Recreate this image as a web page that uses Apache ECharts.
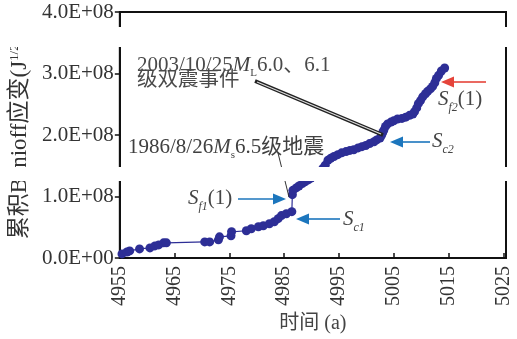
<!DOCTYPE html>
<html><head><meta charset="utf-8">
<script src="https://cdn.jsdelivr.net/npm/echarts@6/dist/echarts.min.js"></script>
<style>html,body{margin:0;padding:0;background:#fff}#c{width:517px;height:339px}</style>
</head><body><div id="c"></div>
<script>
// Cumulative Benioff strain (J^1/2) versus time (a)
const years = [
  4955.4, 4956.3, 4956.8, 4958.6, 4960.5, 4961.4, 4962.1, 4963.0, 4963.5,
  4970.5, 4971.4, 4973.0, 4973.2, 4975.3, 4975.4, 4978.1, 4979.0, 4980.3,
  4981.2, 4982.3, 4983.2, 4983.9, 4984.5, 4985.4, 4986.4,
  4986.5, 4986.6, 4987.2, 4987.7, 4988.3, 4988.8, 4989.4, 4989.9, 4990.5,
  4991.0, 4991.5, 4992.1, 4992.5, 4993.0, 4993.5, 4994.1, 4994.8, 4995.5,
  4996.3, 4997.0, 4997.7, 4998.5, 4999.2, 4999.9, 5000.6, 5001.4, 5001.9,
  5002.5, 5002.8, 5003.0, 5003.2, 5003.5, 5003.9, 5004.5, 5005.0, 5005.7,
  5006.5, 5007.2, 5007.9, 5008.5, 5008.8, 5009.2, 5009.5, 5009.9, 5010.3,
  5010.8, 5011.2, 5011.7, 5012.1, 5012.5, 5012.8, 5013.2, 5013.7, 5014.3
];
const values = [
  0.066e8, 0.098e8, 0.115e8, 0.148e8, 0.164e8, 0.197e8, 0.213e8, 0.246e8, 0.246e8,
  0.262e8, 0.262e8, 0.295e8, 0.344e8, 0.36e8, 0.426e8, 0.443e8, 0.475e8, 0.508e8,
  0.525e8, 0.557e8, 0.59e8, 0.64e8, 0.69e8, 0.72e8, 0.754e8,
  1.03e8, 1.10e8, 1.14e8, 1.17e8, 1.21e8, 1.24e8, 1.27e8, 1.30e8, 1.33e8,
  1.37e8, 1.41e8, 1.46e8, 1.51e8, 1.59e8, 1.62e8, 1.65e8, 1.68e8, 1.71e8,
  1.73e8, 1.75e8, 1.76e8, 1.79e8, 1.81e8, 1.83e8, 1.86e8, 1.89e8, 1.92e8,
  1.95e8, 2.00e8, 2.04e8, 2.08e8, 2.14e8, 2.18e8, 2.21e8, 2.23e8, 2.26e8,
  2.27e8, 2.29e8, 2.32e8, 2.34e8, 2.38e8, 2.44e8, 2.51e8, 2.56e8, 2.62e8,
  2.67e8, 2.71e8, 2.75e8, 2.79e8, 2.85e8, 2.92e8, 2.97e8, 3.04e8, 3.09e8
];
const yTickLabels = ['0.0E+00', '1.0E+08', '2.0E+08', '3.0E+08', '4.0E+08'];
const xName = '时间 (a)';
const yName = '累积Benioff应变(J{sup|1/2})';
const note2003a = '2003/10/25{i|M}{sub|L}6.0、6.1';
const note2003b = '级双震事件';
const note1986 = '1986/8/26{i|M}{sub|s}6.5级地震';
const labelSf1 = '{s|S}{sub|f1}(1)';
const labelSc1 = '{s|S}{sub|c1}';
const labelSc2 = '{s|S}{sub|c2}';
const labelSf2 = '{s|S}{sub|f2}(1)';

const SERIF = "'Liberation Serif','Times New Roman','Noto Sans CJK SC',serif";
const BLUE = '#1c76bd', RED = '#e5443a', MARK = '#2d2e96';

const chart = echarts.init(document.getElementById('c'), null, {renderer: 'canvas'});
const data = years.map((y, i) => [y, values[i]]);

function arrow(x1, y1, x2, y2, color) {
  const dx = x2 - x1, dy = y2 - y1, L = Math.hypot(dx, dy), ux = dx / L, uy = dy / L;
  const hl = 13, hw = 5.5;
  const bx = x2 - ux * hl, by = y2 - uy * hl;
  return [
    {type: 'line', z: 100, shape: {x1: x1, y1: y1, x2: bx, y2: by}, style: {stroke: color, lineWidth: 1.6}},
    {type: 'polygon', z: 100, shape: {points: [[x2, y2], [bx - uy * hw, by + ux * hw], [bx + uy * hw, by - ux * hw]]}, style: {fill: color}}
  ];
}
const noteRich = {
  i: {fontStyle: 'italic', fontSize: 21, fontFamily: SERIF, fill: '#444'},
  sub: {fontSize: 11, fontFamily: SERIF, fill: '#444', verticalAlign: 'bottom', padding: [0, 0, -3, 0]}
};
const sRich = {
  s: {fontStyle: 'italic', fontSize: 21, fontFamily: SERIF, fill: '#444'},
  sub: {fontStyle: 'italic', fontSize: 12, fontFamily: SERIF, fill: '#444', verticalAlign: 'bottom', padding: [0, 0, -4, 0]}
};
function txt(text, x, y, rich, size, color) {
  return {type: 'text', z: 100, style: {text: text, x: x, y: y, fontSize: size, fontFamily: SERIF,
    fill: color, rich: rich, verticalAlign: 'middle', align: 'left'}};
}

const graphics = [].concat(
  [txt(note2003a, 137, 65, noteRich, 21, '#4a4a4a'),
   txt(note2003b, 137, 81, noteRich, 20.5, '#4a4a4a'),
   txt(note1986, 128, 147, noteRich, 21, '#404040'),
   {type: 'line', z: 100, shape: {x1: 255, y1: 81, x2: 383, y2: 135}, style: {stroke: '#222', lineWidth: 3.6}},
   {type: 'line', z: 101, shape: {x1: 257, y1: 82, x2: 381, y2: 134}, style: {stroke: '#ddd', lineWidth: 1.1}},
   {type: 'line', z: 100, shape: {x1: 278, y1: 153, x2: 289, y2: 197}, style: {stroke: '#333', lineWidth: 1}},
   txt(labelSf1, 188, 198, sRich, 21, '#444'),
   txt(labelSc1, 343, 219, sRich, 21, '#444'),
   txt(labelSc2, 432, 141, sRich, 21, '#444'),
   txt(labelSf2, 438, 99, sRich, 21, '#444')],
  arrow(238, 199, 286, 199, BLUE),
  arrow(340, 219, 296, 219, BLUE),
  arrow(430, 142, 390, 142, BLUE),
  arrow(486, 82, 441, 82, RED),
  [{type: 'rect', z: 200, shape: {x: 0, y: 27, width: 517, height: 20}, style: {fill: '#fff'}},
   {type: 'rect', z: 200, shape: {x: 0, y: 167, width: 517, height: 14}, style: {fill: '#fff'}}]
);

chart.setOption({
  animation: false,
  backgroundColor: '#fff',
  grid: {left: 118, right: 11, top: 12, bottom: 75, show: true, borderColor: '#111', borderWidth: 2, backgroundColor: 'transparent'},
  xAxis: {
    type: 'value', min: 4955, max: 5025.5, interval: 10,
    axisLine: {show: true, lineStyle: {color: '#111', width: 2}},
    axisTick: {show: true, inside: true, length: 5, lineStyle: {color: '#111', width: 1.5}},
    axisLabel: {rotate: 90, margin: 8, color: '#333', fontFamily: SERIF, fontSize: 20, showMaxLabel: false,
      formatter: v => String(v)},
    splitLine: {show: false},
    name: xName, nameLocation: 'middle', nameGap: 56,
    nameTextStyle: {fontFamily: SERIF, fontSize: 20, color: '#444'}
  },
  yAxis: {
    type: 'value', min: 0, max: 4e8, interval: 1e8,
    axisLine: {show: true, lineStyle: {color: '#111', width: 2}},
    axisTick: {show: true, inside: false, length: 5, lineStyle: {color: '#111', width: 1.5}},
    axisLabel: {margin: 6, color: '#333', fontFamily: SERIF, fontSize: 21,
      formatter: v => yTickLabels[Math.round(v / 1e8)]},
    splitLine: {show: false},
    name: yName, nameLocation: 'middle', nameGap: 84, nameRotate: 90,
    nameTextStyle: {fontFamily: SERIF, fontSize: 23, color: '#333', padding: [0, 6, 0, 0],
      rich: {sup: {fontFamily: SERIF, fontSize: 13, color: '#333', verticalAlign: 'top'}}}
  },
  series: [{
    type: 'line', data: data, symbol: 'circle', symbolSize: 9, showAllSymbol: true,
    lineStyle: {color: MARK, width: 1.2}, itemStyle: {color: MARK}, z: 5
  }],
  graphic: graphics
});
</script>
</body></html>
